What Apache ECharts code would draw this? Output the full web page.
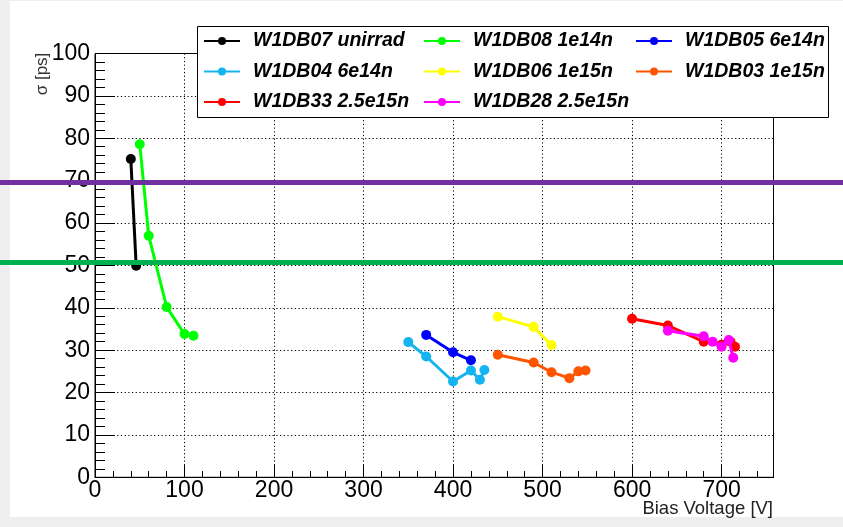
<!DOCTYPE html>
<html>
<head>
<meta charset="utf-8">
<script src="https://cdn.jsdelivr.net/npm/echarts@6/dist/echarts.min.js"></script>
<style>
  html, body { margin: 0; padding: 0; background: #eeeeee; }
  #chart { width: 843px; height: 527px; }
</style>
</head>
<body>
<div id="chart"></div>
<script>
// Timing resolution vs. bias voltage for the W1DB sensor samples
const sensorNames = [
  'W1DB07 unirrad', 'W1DB08 1e14n', 'W1DB05 6e14n', 'W1DB04 6e14n',
  'W1DB06 1e15n', 'W1DB03 1e15n', 'W1DB33 2.5e15n', 'W1DB28 2.5e15n'
];
const sensorColors = [
  '#000000', '#00ff00', '#0000ff', '#14b4f0',
  '#ffff00', '#ff5500', '#ff0000', '#ff00ff'
];

// [bias voltage (V), sigma (ps)]
const w1db07 = [[40, 75.1], [46, 49.9]];
const w1db08 = [[50, 78.6], [60, 57.0], [80, 40.2], [100, 33.8], [110, 33.4]];
const w1db05 = [[370, 33.6], [400, 29.5], [420, 27.6]];
const w1db04 = [[350, 31.9], [370, 28.5], [400, 22.6], [420, 25.2], [430, 23.0], [435, 25.3]];
const w1db06 = [[450, 37.9], [490, 35.5], [510, 31.2]];
const w1db03 = [[450, 28.9], [490, 27.1], [510, 24.8], [530, 23.4], [540, 25.0], [548, 25.2]];
const w1db33 = [[600, 37.4], [640, 35.8], [680, 32.0], [700, 31.3], [710, 32.0], [715, 30.8]];
const w1db28 = [[640, 34.6], [680, 33.3], [690, 32.0], [700, 30.8], [708, 32.4], [713, 28.2]];
const sensorData = [w1db07, w1db08, w1db05, w1db04, w1db06, w1db03, w1db33, w1db28];

// Reference sigma levels drawn across the whole canvas
const referenceLevels = [69.6, 50.7];
const referenceColors = ['#7030a0', '#00b050'];

// Axis setup
const xMin = 0, xMax = 758, xMajor = 100, xMinor = 20;
const yMin = 0, yMax = 100, yMajor = 10;

// Legend columns (ROOT-style 3 column layout)
const legendColumns = [
  ['W1DB07 unirrad', 'W1DB04 6e14n', 'W1DB33 2.5e15n'],
  ['W1DB08 1e14n', 'W1DB06 1e15n', 'W1DB28 2.5e15n'],
  ['W1DB05 6e14n', 'W1DB03 1e15n']
];

const FONT = '"Liberation Sans", Arial, Helvetica, sans-serif';
const gridBox = { left: 95, right: 69.5, top: 53.5, bottom: 49.7 };

const chart = echarts.init(document.getElementById('chart'), null, { renderer: 'canvas' });

const dataSeries = sensorNames.map((name, i) => ({
  name: name,
  type: 'line',
  xAxisIndex: 0,
  yAxisIndex: 0,
  data: sensorData[i],
  symbol: 'circle',
  symbolSize: 10,
  showSymbol: true,
  animation: false,
  color: sensorColors[i],
  lineStyle: { width: 3, color: sensorColors[i] },
  itemStyle: { color: sensorColors[i] },
  z: 3 + i * 0.01
}));

const levelSeries = {
  type: 'line',
  xAxisIndex: 2,
  yAxisIndex: 1,
  data: [],
  silent: true,
  animation: false,
  z: 50,
  markLine: {
    silent: true,
    animation: false,
    symbol: 'none',
    label: { show: false },
    emphasis: { disabled: true },
    data: referenceLevels.map((v, i) => ({
      yAxis: v,
      lineStyle: { color: referenceColors[i], width: 5, type: 'solid' }
    }))
  }
};

const legendLefts = [203, 423, 635];
const legends = legendColumns.map((col, i) => ({
  orient: 'vertical',
  left: legendLefts[i],
  top: 31,
  padding: 0,
  itemGap: 10.5,
  itemWidth: 36,
  itemHeight: 10,
  selectedMode: false,
  z: 20,
  data: col,
  textStyle: {
    fontFamily: FONT,
    fontSize: 19.5,
    fontStyle: 'italic',
    fontWeight: 'bold',
    color: '#000',
    lineHeight: 20,
    padding: [0, 0, 0, 8]
  }
}));

const gridDots = { color: '#000', width: 1, type: [1.2, 2.5] };

const option = {
  backgroundColor: '#eeeeee',
  animation: false,
  graphic: [
    {
      type: 'rect', z: -100, silent: true,
      shape: { x: 10, y: 1, width: 833, height: 516 },
      style: { fill: '#ffffff' }
    },
    {
      type: 'rect', z: 15, silent: true,
      shape: { x: 197.5, y: 26.5, width: 631, height: 91 },
      style: { fill: '#ffffff', stroke: '#000', lineWidth: 1 }
    },
    {
      type: 'text', z: 15, silent: true,
      x: 773, y: 509,
      style: {
        text: 'Bias Voltage [V]', fill: '#222', font: '18.5px ' + FONT,
        align: 'right', verticalAlign: 'middle'
      }
    },
    {
      type: 'text', z: 15, silent: true,
      x: 42.5, y: 74, rotation: Math.PI / 2,
      style: {
        text: 'σ [ps]', fill: '#333', font: '17px ' + FONT,
        align: 'center', verticalAlign: 'middle'
      }
    }
  ],
  legend: legends,
  grid: [
    Object.assign({ show: true, borderColor: '#000', borderWidth: 1, backgroundColor: '#fff' }, gridBox),
    { left: 0, right: 0, top: gridBox.top, bottom: gridBox.bottom, show: false }
  ],
  xAxis: [
    {
      type: 'value', gridIndex: 0, position: 'bottom',
      min: xMin, max: xMax, interval: xMajor,
      axisLine: { show: true, onZero: false, lineStyle: { color: '#000', width: 1 } },
      axisTick: { show: true, inside: true, length: 12.7, lineStyle: { color: '#000', width: 1 } },
      minorTick: { show: false },
      axisLabel: {
        show: true, margin: 2, color: '#000', fontSize: 23, fontFamily: FONT,
        showMaxLabel: false
      },
      splitLine: { show: true, lineStyle: gridDots }
    },
    {
      type: 'value', gridIndex: 0, position: 'bottom',
      min: xMin, max: xMax, interval: xMinor,
      axisLine: { show: false },
      axisTick: { show: true, inside: true, length: 6.3, lineStyle: { color: '#000', width: 1 } },
      axisLabel: { show: false },
      splitLine: { show: false }
    },
    {
      type: 'value', gridIndex: 1, min: 0, max: 1, show: false
    }
  ],
  yAxis: [
    {
      type: 'value', gridIndex: 0, position: 'left',
      min: yMin, max: yMax, interval: yMajor,
      axisLine: { show: true, onZero: false, lineStyle: { color: '#000', width: 1 } },
      axisTick: { show: true, inside: true, length: 20, lineStyle: { color: '#000', width: 1 } },
      minorTick: { show: true, splitNumber: 5, length: 10, lineStyle: { color: '#000', width: 1 } },
      axisLabel: { show: true, margin: 5, color: '#000', fontSize: 23, fontFamily: FONT },
      splitLine: { show: true, lineStyle: gridDots }
    },
    {
      type: 'value', gridIndex: 1, min: yMin, max: yMax, show: false
    }
  ],
  series: dataSeries.concat([levelSeries])
};

chart.setOption(option);
</script>
</body>
</html>
